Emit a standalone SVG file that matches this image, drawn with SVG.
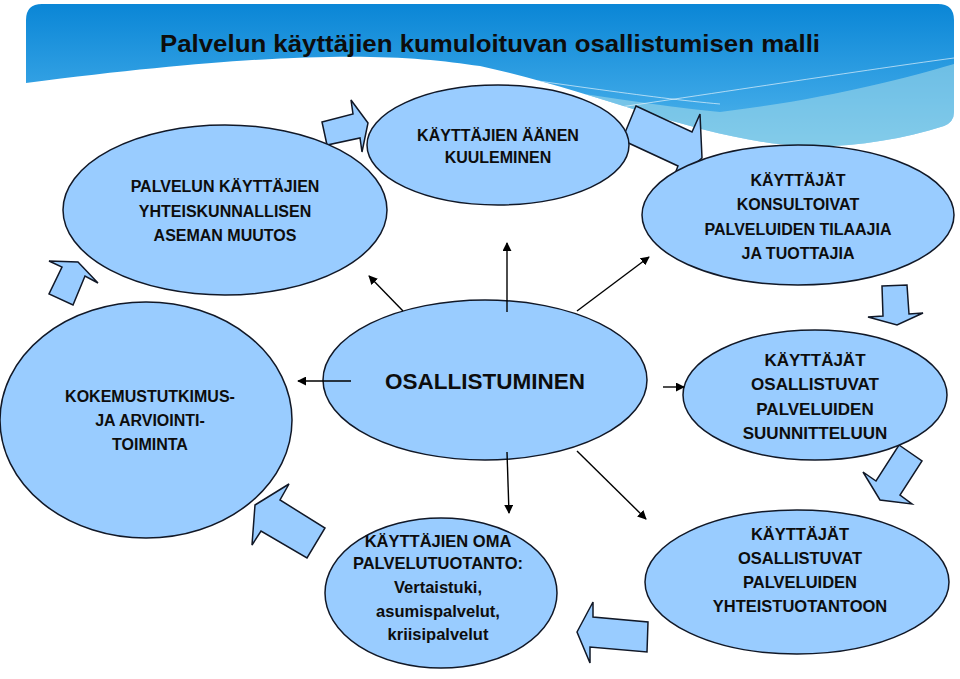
<svg xmlns="http://www.w3.org/2000/svg" width="960" height="679" viewBox="0 0 960 679">
<defs>
<linearGradient id="bg" x1="0" y1="0" x2="0" y2="1">
<stop offset="0" stop-color="#0a86d6"/>
<stop offset="0.6" stop-color="#3aa6e6"/>
<stop offset="1" stop-color="#63bdea"/>
</linearGradient>
<clipPath id="bgclip">
<path d="M26,83 V20 Q26,4 42,4 H938 Q954,4 954,20 V112 Q954,122 944,126 C900,140 850,148 800,146 C700,140 600,92 480,66 C400,54 300,48 26,83 Z"/>
</clipPath>
<marker id="ah" viewBox="0 0 10 10" refX="9" refY="5" markerWidth="9" markerHeight="9" markerUnits="userSpaceOnUse" orient="auto">
<path d="M0,0 L10,5 L0,10 Z" fill="#000"/>
</marker>
</defs>
<style>
.node ellipse{fill:#99ccff;stroke:#111827;stroke-width:1.5}
.blk{fill:#99ccff;stroke:#111827;stroke-width:1.5;stroke-linejoin:miter}
.t{font-family:"Liberation Sans",Arial,sans-serif;font-weight:bold;fill:#0d0d0d;text-anchor:middle;font-size:16px}
.con line{stroke:#000;stroke-width:1.4;marker-end:url(#ah)}
</style>
<rect width="960" height="679" fill="#ffffff"/>
<g id="background" clip-path="url(#bgclip)">
<rect x="26" y="4" width="928" height="160" fill="url(#bg)"/>
<path d="M280,58 C450,68 600,100 720,112 C820,100 900,80 954,64 V170 H280 Z" fill="#a8dcea" opacity="0.55"/>
<path d="M400,62 C550,82 650,98 720,104" fill="none" stroke="#ffffff" stroke-opacity="0.6" stroke-width="1"/>
<path d="M530,120 C700,96 850,72 954,58" fill="none" stroke="#ffffff" stroke-opacity="0.6" stroke-width="1"/>
</g>
<text id="title" x="160" y="52" textLength="660" lengthAdjust="spacingAndGlyphs" style="font-family:'Liberation Sans',Arial,sans-serif;font-weight:bold;font-size:24px;fill:#0d0d0d">Palvelun käyttäjien kumuloituvan osallistumisen malli</text>
<g id="block-arrows">
<polygon class="blk" points="322,122 353,114 351,100 368,123 362,152 360,138 327,145"/>
<polygon class="blk" points="636,106 692,132 700,114 702,158 671,184 678,166 622,140"/>
<polygon class="blk" points="78,262 98,283 85,276 73,305 49,294 62,267 49,261"/>
<polygon class="blk" points="882,286 907,285 909,314 923,313 897,325 868,317 883,316"/>
<polygon class="blk" points="899,445 922,461 900,495 912,504 880,500 863,472 876,481"/>
<polygon class="blk" points="255,505 289,484 280,500 325,528 307,558 261,531 252,545"/>
<polygon class="blk" points="577,632 593,602 593,617 648,622 647,652 590,647 590,663"/>
</g>
<g id="n1" class="node"><ellipse cx="225" cy="210" rx="162" ry="85"/>
<text class="t" x="225" y="192">PALVELUN KÄYTTÄJIEN</text>
<text class="t" x="225" y="217">YHTEISKUNNALLISEN</text>
<text class="t" x="225" y="241">ASEMAN MUUTOS</text></g>
<g id="n2" class="node"><ellipse cx="498" cy="145" rx="131" ry="60"/>
<text class="t" x="498" y="141">KÄYTTÄJIEN ÄÄNEN</text>
<text class="t" x="498" y="163">KUULEMINEN</text></g>
<g id="n3" class="node"><ellipse cx="798" cy="215" rx="156" ry="70"/>
<text class="t" x="798" y="186">KÄYTTÄJÄT</text>
<text class="t" x="798" y="210">KONSULTOIVAT</text>
<text class="t" x="798" y="235">PALVELUIDEN TILAAJIA</text>
<text class="t" x="798" y="259">JA TUOTTAJIA</text></g>
<g id="n4" class="node"><ellipse cx="146" cy="420" rx="146" ry="118"/>
<text class="t" x="150" y="402">KOKEMUSTUTKIMUS-</text>
<text class="t" x="150" y="426">JA ARVIOINTI-</text>
<text class="t" x="150" y="450">TOIMINTA</text></g>
<g id="n5" class="node"><ellipse cx="485" cy="380" rx="162" ry="80"/>
<text class="t" x="485" y="389" style="font-size:22px" textLength="200" lengthAdjust="spacingAndGlyphs">OSALLISTUMINEN</text></g>
<g id="n6" class="node"><ellipse cx="815" cy="395" rx="132" ry="65"/>
<text class="t" x="815" y="366" style="font-size:17px">KÄYTTÄJÄT</text>
<text class="t" x="815" y="390" style="font-size:17px">OSALLISTUVAT</text>
<text class="t" x="815" y="415" style="font-size:17px">PALVELUIDEN</text>
<text class="t" x="815" y="439" style="font-size:17px">SUUNNITTELUUN</text></g>
<g id="n7" class="node"><ellipse cx="441" cy="593" rx="116" ry="75"/>
<text class="t" x="438" y="547" style="font-size:16.5px">KÄYTTÄJIEN OMA</text>
<text class="t" x="438" y="569" style="font-size:16.5px">PALVELUTUOTANTO:</text>
<text class="t" x="438" y="593" style="font-size:16.5px">Vertaistuki,</text>
<text class="t" x="438" y="617" style="font-size:16.5px">asumispalvelut,</text>
<text class="t" x="438" y="640" style="font-size:16.5px">kriisipalvelut</text></g>
<g id="n8" class="node"><ellipse cx="797" cy="582" rx="152" ry="72"/>
<text class="t" x="800" y="540" style="font-size:16.5px">KÄYTTÄJÄT</text>
<text class="t" x="800" y="564" style="font-size:16.5px">OSALLISTUVAT</text>
<text class="t" x="800" y="588" style="font-size:16.5px">PALVELUIDEN</text>
<text class="t" x="800" y="612" style="font-size:16.5px">YHTEISTUOTANTOON</text></g>
<g id="connectors" class="con">
<line x1="507" y1="312" x2="507" y2="243"/>
<line x1="403" y1="311" x2="369" y2="276"/>
<line x1="577" y1="311" x2="649" y2="257"/>
<line x1="351" y1="381" x2="298" y2="381"/>
<line x1="663" y1="387" x2="684" y2="387"/>
<line x1="507" y1="452" x2="509" y2="513"/>
<line x1="577" y1="451" x2="646" y2="519"/>
</g>
</svg>
